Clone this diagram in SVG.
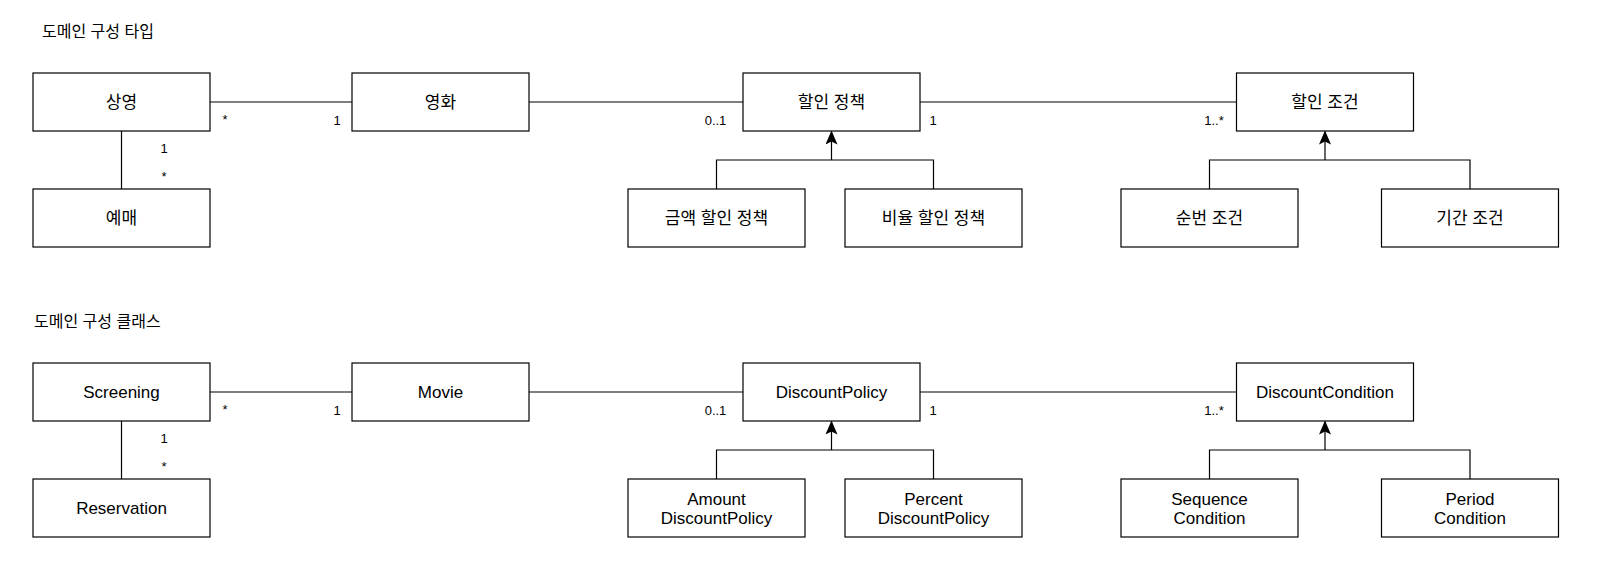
<svg xmlns="http://www.w3.org/2000/svg" width="1606" height="570" viewBox="0 0 1606 570">
<defs>
<style>
.box{fill:#fff;stroke:#000;stroke-width:1.2}
.ln{fill:none;stroke:#000;stroke-width:1.2}
.t{font-family:"Liberation Sans","Noto Sans CJK KR",Arial,sans-serif;font-size:17px;fill:#000;text-anchor:middle;dominant-baseline:central}
.k{font-size:17px}
.m{font-family:"Liberation Sans","Noto Sans CJK KR",Arial,sans-serif;font-size:13px;fill:#000;text-anchor:middle}
.h{font-family:"Liberation Sans","Noto Sans CJK KR",sans-serif;font-size:16px;fill:#000}
</style>
<marker id="arr" viewBox="0 0 14 12" refX="13" refY="6" markerWidth="14" markerHeight="12" markerUnits="userSpaceOnUse" orient="auto">
<path d="M0,0 L14,6 L0,12 L3,6 Z" fill="#000"/>
</marker>
</defs>
<rect width="1606" height="570" fill="#fff"/>
<text class="h" x="42" y="37">도메인 구성 타입</text>
<text class="h" x="34" y="327">도메인 구성 클래스</text>

<g id="connectors">
<!-- top -->
<line class="ln" x1="210" y1="102" x2="352" y2="102"/>
<line class="ln" x1="529" y1="102" x2="743" y2="102"/>
<line class="ln" x1="920" y1="102" x2="1236.5" y2="102"/>
<line class="ln" x1="121.5" y1="131" x2="121.5" y2="189"/>
<path class="ln" d="M716.5,189 V160 H933.5 V189"/>
<path class="ln" d="M831.5,160 V131.5" marker-end="url(#arr)"/>
<path class="ln" d="M1209.5,189 V160 H1470 V189"/>
<path class="ln" d="M1325,160 V131.5" marker-end="url(#arr)"/>
<!-- bottom -->
<line class="ln" x1="210" y1="392" x2="352" y2="392"/>
<line class="ln" x1="529" y1="392" x2="743" y2="392"/>
<line class="ln" x1="920" y1="392" x2="1236.5" y2="392"/>
<line class="ln" x1="121.5" y1="421" x2="121.5" y2="479"/>
<path class="ln" d="M716.5,479 V450 H933.5 V479"/>
<path class="ln" d="M831.5,450 V421.5" marker-end="url(#arr)"/>
<path class="ln" d="M1209.5,479 V450 H1470 V479"/>
<path class="ln" d="M1325,450 V421.5" marker-end="url(#arr)"/>
<!-- multiplicities -->
<text class="m" x="225" y="124">*</text>
<text class="m" x="337" y="125">1</text>
<text class="m" x="164" y="153">1</text>
<text class="m" x="164" y="181">*</text>
<text class="m" x="715.5" y="125">0..1</text>
<text class="m" x="933" y="125">1</text>
<text class="m" x="1214" y="125">1..*</text>
<text class="m" x="225" y="414">*</text>
<text class="m" x="337" y="415">1</text>
<text class="m" x="164" y="443">1</text>
<text class="m" x="164" y="471">*</text>
<text class="m" x="715.5" y="415">0..1</text>
<text class="m" x="933" y="415">1</text>
<text class="m" x="1214" y="415">1..*</text>
</g>

<g id="n-sangyeong"><rect class="box" x="33" y="73" width="177" height="58"/><text class="t k" x="121.5" y="102">상영</text></g>
<g id="n-yeonghwa"><rect class="box" x="352" y="73" width="177" height="58"/><text class="t k" x="440.5" y="102">영화</text></g>
<g id="n-halin-jeongchaek"><rect class="box" x="743" y="73" width="177" height="58"/><text class="t k" x="831.5" y="102">할인 정책</text></g>
<g id="n-halin-jogeon"><rect class="box" x="1236.5" y="73" width="177" height="58"/><text class="t k" x="1325" y="102">할인 조건</text></g>
<g id="n-yemae"><rect class="box" x="33" y="189" width="177" height="58"/><text class="t k" x="121.5" y="218">예매</text></g>
<g id="n-geumaek"><rect class="box" x="628" y="189" width="177" height="58"/><text class="t k" x="716.5" y="218">금액 할인 정책</text></g>
<g id="n-biyul"><rect class="box" x="845" y="189" width="177" height="58"/><text class="t k" x="933.5" y="218">비율 할인 정책</text></g>
<g id="n-sunbeon"><rect class="box" x="1121" y="189" width="177" height="58"/><text class="t k" x="1209.5" y="218">순번 조건</text></g>
<g id="n-gigan"><rect class="box" x="1381.5" y="189" width="177" height="58"/><text class="t k" x="1470" y="218">기간 조건</text></g>

<g id="n-screening"><rect class="box" x="33" y="363" width="177" height="58"/><text class="t" x="121.5" y="392">Screening</text></g>
<g id="n-movie"><rect class="box" x="352" y="363" width="177" height="58"/><text class="t" x="440.5" y="392">Movie</text></g>
<g id="n-discountpolicy"><rect class="box" x="743" y="363" width="177" height="58"/><text class="t" x="831.5" y="392">DiscountPolicy</text></g>
<g id="n-discountcondition"><rect class="box" x="1236.5" y="363" width="177" height="58"/><text class="t" x="1325" y="392">DiscountCondition</text></g>
<g id="n-reservation"><rect class="box" x="33" y="479" width="177" height="58"/><text class="t" x="121.5" y="508">Reservation</text></g>
<g id="n-amount"><rect class="box" x="628" y="479" width="177" height="58"/><text class="t" x="716.5" y="499">Amount</text><text class="t" x="716.5" y="518">DiscountPolicy</text></g>
<g id="n-percent"><rect class="box" x="845" y="479" width="177" height="58"/><text class="t" x="933.5" y="499">Percent</text><text class="t" x="933.5" y="518">DiscountPolicy</text></g>
<g id="n-sequence"><rect class="box" x="1121" y="479" width="177" height="58"/><text class="t" x="1209.5" y="499">Sequence</text><text class="t" x="1209.5" y="518">Condition</text></g>
<g id="n-period"><rect class="box" x="1381.5" y="479" width="177" height="58"/><text class="t" x="1470" y="499">Period</text><text class="t" x="1470" y="518">Condition</text></g>
</svg>
